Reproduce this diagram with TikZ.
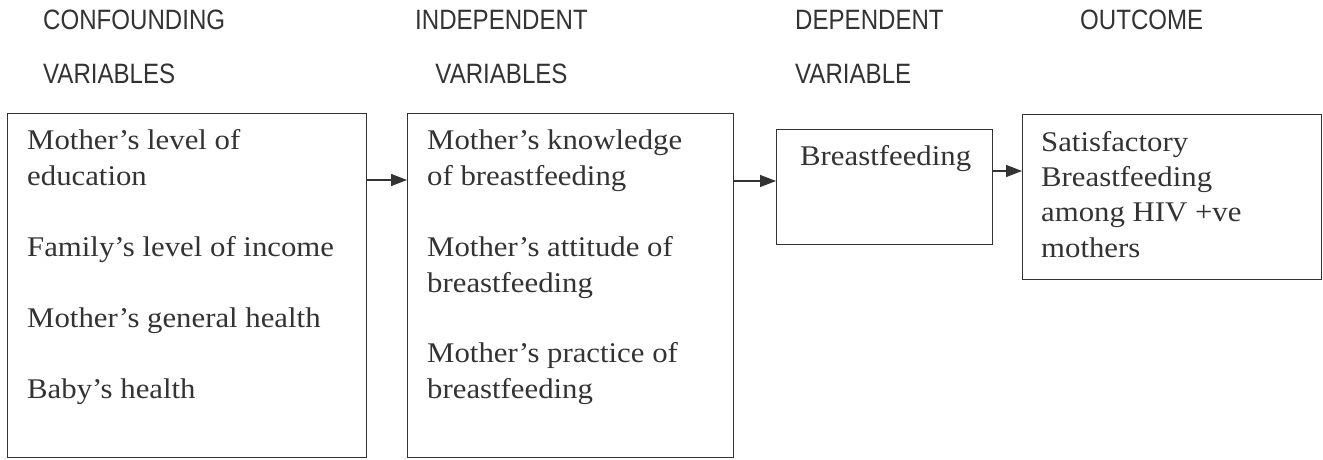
\documentclass[tikz,border=0pt]{standalone}
\usepackage{fontspec}
\newfontfamily\bodyfont[FakeStretch=1.08]{Liberation Serif}
\newfontfamily\headfont[FakeStretch=0.86]{Liberation Sans}
\usetikzlibrary{
		calc,
		positioning,
		arrows.meta
	}
\colorlet{ink}{black!80}
\tikzset{
		>={Triangle[length=16pt, width=12pt]}
	}

\begin{document}
\begin{tikzpicture}[x=1pt, y=-1pt,
	box/.style={draw=ink, line width=1.4pt, anchor=north west, inner sep=0pt},
	body/.style={text=ink, font=\bodyfont\fontsize{28.5}{36}\selectfont, align=left, inner sep=0pt},
	head/.style={text=ink, font=\headfont\fontsize{28}{31}\selectfont, inner sep=0pt, anchor=north west},
	arr/.style={draw=ink, line width=1.4pt, ->}]
	\useasboundingbox (0,0) rectangle (1323,460);
	% column headings
	\node[head, align=left] (hconf) at (43,7.3) {\strut CONFOUNDING\\[23pt]VARIABLES};
	\node[head, align=center] (hind) at (415,7.3) {\strut INDEPENDENT\\[23pt]VARIABLES};
	\node[head, align=left] (hdep) at (795,7.3) {\strut DEPENDENT\\[23pt]VARIABLE};
	\node[head] (hout) at (1080,7.3) {\strut OUTCOME};
	% boxes
	\node[box, minimum width=359pt, minimum height=344pt] (conf) at (7,113) {};
	\node[box, minimum width=326pt, minimum height=344pt] (indep) at (407,113) {};
	\node[box, minimum width=216pt, minimum height=115pt] (dep) at (776,129) {};
	\node[box, minimum width=299pt, minimum height=165pt] (outc) at (1022,114) {};
	% box texts
	\node[body, below right=10.8pt and 20pt of conf.north west] (tconf) {\strut Mother’s level of\\education\\[35pt]Family’s level of income\\[35pt]Mother’s general health\\[35pt]Baby’s health};
	\node[body, below right=10.8pt and 20pt of indep.north west] (tindep) {\strut Mother’s knowledge\\of breastfeeding\\[35pt]Mother’s attitude of\\breastfeeding\\[34pt]Mother’s practice of\\breastfeeding};
	\node[body, below right=10.8pt and 24pt of dep.north west] (tdep) {\strut Breastfeeding};
	\node[body, below right=11.8pt and 19pt of outc.north west] (toutc) {\strut Satisfactory\\[-1pt]Breastfeeding\\[-1pt]among HIV +ve\\mothers};
	% arrows
	\draw[arr] ([yshift=-67pt]conf.north east) -- ([yshift=-67pt]indep.north west);
	\draw[arr] ([yshift=-68pt]indep.north east) -- ([yshift=-52pt]dep.north west);
	\draw[arr] ([yshift=-42pt]dep.north east) -- ([yshift=-57pt]outc.north west);
\end{tikzpicture}
\end{document}
